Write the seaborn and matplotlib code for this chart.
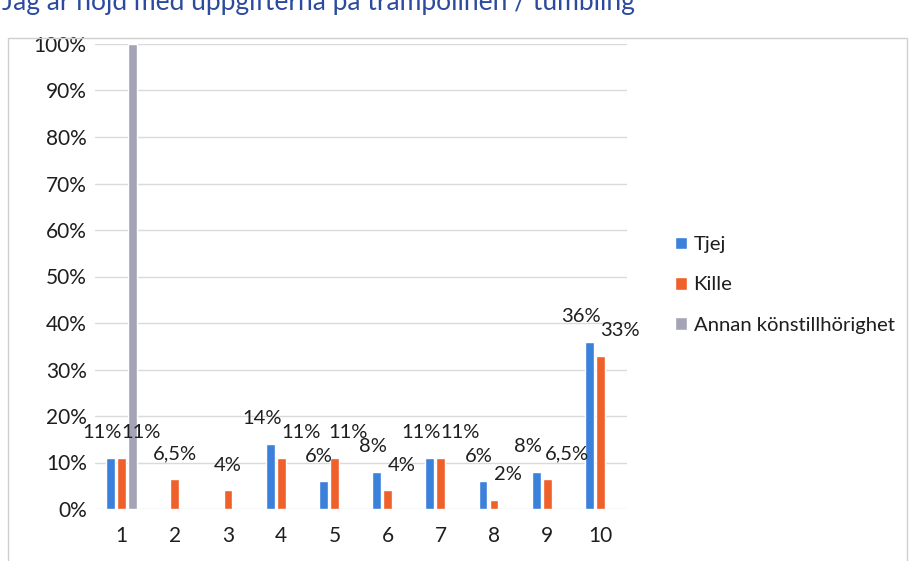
import matplotlib
matplotlib.use("Agg")
import matplotlib.pyplot as plt
import seaborn as sns
import pandas as pd
from matplotlib.patches import Rectangle
from matplotlib.ticker import FuncFormatter

# ---- data ----
categories = ["1", "2", "3", "4", "5", "6", "7", "8", "9", "10"]
tjej = [11, 0, 0, 14, 6, 8, 11, 6, 8, 36]
kille = [11, 6.5, 4, 11, 11, 4, 11, 2, 6.5, 33]
annan = [100, 0, 0, 0, 0, 0, 0, 0, 0, 0]
series_names = ["Tjej", "Kille", "Annan könstillhörighet"]
y_ticks = [0, 10, 20, 30, 40, 50, 60, 70, 80, 90, 100]
title_text = "Jag är nöjd med uppgifterna på trampolinen / tumbling"

colors = ["#3b80da", "#f0602a", "#a4a4b6"]

sns.set_theme(style="white")
plt.rcParams['font.family'] = ['Lato', 'DejaVu Sans']

rows = []
for name, vals in zip(series_names, [tjej, kille, annan]):
    for c, v in zip(categories, vals):
        rows.append({"Fråga": c, "Andel": v, "Kön": name})
df = pd.DataFrame(rows)

fig = plt.figure(figsize=(9.11, 5.61), dpi=100)
ax = fig.add_axes([95 / 911, 52 / 561, 532 / 911, 465 / 561])

sns.barplot(data=df, x="Fråga", y="Andel", hue="Kön", order=categories,
            hue_order=series_names, palette=colors, saturation=1,
            width=0.62, gap=0.2, ax=ax, errorbar=None)

ax.set_xlim(-0.5, len(categories) - 0.5)
ax.set_ylim(0, 100)
ax.set_yticks(y_ticks)
ax.yaxis.set_major_formatter(FuncFormatter(lambda v, p: f"{int(v)}%"))
ax.set_xlabel("")
ax.set_ylabel("")
for s in ax.spines.values():
    s.set_visible(False)
ax.yaxis.grid(True, color="#dadada", lw=1)
ax.set_axisbelow(True)
ax.tick_params(axis="both", length=0, labelsize=15, colors="#1e1e1e")
ax.tick_params(axis="x", pad=12)
ax.tick_params(axis="y", pad=6)


def fmt(v):
    s = f"{v:g}".replace(".", ",")
    return s + "%"


# data labels for Tjej and Kille
for ci, cont in enumerate(ax.containers[:2]):
    vals = tjej if ci == 0 else kille
    for i, (bar, v) in enumerate(zip(cont, vals)):
        if v <= 0:
            continue
        close = tjej[i] > 0 and abs(tjej[i] - kille[i]) < 3.5
        if ci == 0:
            dx = -6 if close else -3
        else:
            if tjej[i] <= 0:
                dx = 0
            else:
                dx = 14 if close else 10
        ax.annotate(fmt(v), (bar.get_x() + bar.get_width() / 2, bar.get_height()),
                    xytext=(dx, 18), textcoords="offset points",
                    ha="center", va="center", fontsize=14.5, color="#1e1e1e")

handles, labels = ax.get_legend_handles_labels()
ax.legend(handles, labels, loc="center left",
          bbox_to_anchor=(657 / 911, 1 - 285 / 561), bbox_transform=fig.transFigure,
          frameon=False, fontsize=14.6, handlelength=0.6, handleheight=0.6,
          handletextpad=0.3, labelspacing=1.15, labelcolor="#1e1e1e")

fig.text(2 / 911, 1 - 10 / 561, title_text, va="baseline", ha="left",
         fontsize=19, color="#2c4b9e")

fig.add_artist(Rectangle((8 / 911, -0.05), (907 - 8) / 911, (1 - 38 / 561) + 0.05,
                         transform=fig.transFigure, fill=False, ec="#cfcfcf", lw=1))

fig.savefig("out.png", dpi=100)
